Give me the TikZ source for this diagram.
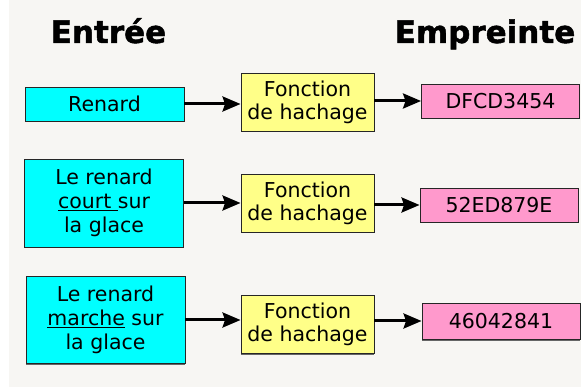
\documentclass[tikz,border=0pt]{standalone}
\usepackage{fontspec}
\setmainfont{DejaVu Sans}
\newfontfamily\titrefont[FakeBold=1.5]{DejaVu Sans Bold}
\usetikzlibrary{arrows.meta,shadows}
\definecolor{fond}{HTML}{F7F6F3}
\definecolor{entree}{HTML}{00FFFF}
\definecolor{hachage}{HTML}{FFFF88}
\definecolor{empreinte}{HTML}{FF99CC}
\tikzset{
  boite/.style={draw=black!85, line width=0.9pt, inner sep=0pt, align=center,
    drop shadow={shadow xshift=0pt, shadow yshift=-1.5pt, fill=black!60, opacity=1}},
  msg/.style={boite, fill=entree, minimum width=159pt, font=\fontsize{20.5}{24}\selectfont},
  fct/.style={boite, fill=hachage, minimum width=133pt, minimum height=58pt, font=\fontsize{20.5}{23}\selectfont},
  hash/.style={boite, fill=empreinte, minimum width=158pt, minimum height=34pt, font=\fontsize{20.5}{24}\selectfont},
  titre/.style={anchor=base, font=\fontsize{31}{31}\selectfont\titrefont},
  fleche/.style={line width=3pt, -{Stealth[length=18pt,width=15pt,inset=2.5pt]}}
}

\begin{document}
\begin{tikzpicture}[x=1pt, y=-1pt]
    \useasboundingbox (0,0) rectangle (581,387);
    \fill[fond] (9,0) rectangle (581,387);

    % titres
    \node[titre] (tEntree) at (108.5,43) {Entrée};
    \node[titre] (tEmpreinte) at (485,43) {Empreinte};

    % ligne 1
    \node[msg, minimum height=34pt] (e1) at (104.5,104) {Renard};
    \node[fct] (f1) at (307.5,102) {Fonction\\de hachage};
    \node[hash] (h1) at (500.5,101) {DFCD3454};

    % ligne 2
    \node[msg, minimum height=88pt] (e2) at (104,203) {Le renard\\\underline{court }sur\\la glace};
    \node[fct] (f2) at (307.5,203) {Fonction\\de hachage};
    \node[hash] (h2) at (499,205) {52ED879E};

    % ligne 3
    \node[msg, minimum height=87pt] (e3) at (105.5,320) {Le renard\\\underline{marche} sur\\la glace};
    \node[fct] (f3) at (307.5,324) {Fonction\\de hachage};
    \node[hash, minimum height=36pt] (h3) at (501,321) {46042841};

    % entree vers fonction
    \foreach \i in {1,2,3} {
        \draw[fleche] (e\i.east) -- (e\i.east -| f\i.west);
    }
    % fonction vers empreinte
    \foreach \i in {1,2,3} {
        \draw[fleche] (h\i.west -| f\i.east) -- (h\i.west);
    }
\end{tikzpicture}
\end{document}
